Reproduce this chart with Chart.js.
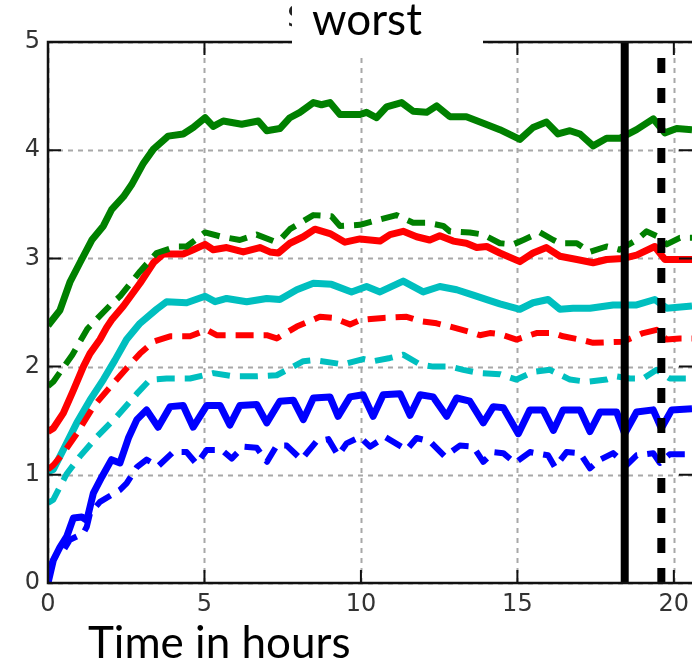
<!DOCTYPE html>
<html>
<head>
<meta charset="utf-8">
<script src="https://cdn.jsdelivr.net/npm/chart.js@4/dist/chart.umd.min.js"></script>
<style>
  html, body { margin: 0; padding: 0; background: #fff; }
  #wrap { width: 692px; height: 668px; }
</style>
</head>
<body>
<div id="wrap"><canvas id="c" width="692" height="668"></canvas></div>
<script>
// [hour, value] pairs
const greenSolid = [[0,2.38],[0.38,2.52],[0.7,2.78],[1.02,2.96],[1.4,3.17],[1.77,3.30],[2.03,3.45],[2.41,3.57],[2.67,3.68],[3.05,3.88],[3.37,4.01],[3.84,4.13],[4.32,4.15],[4.64,4.21],[5.02,4.30],[5.28,4.22],[5.6,4.27],[6.19,4.24],[6.72,4.27],[6.99,4.18],[7.41,4.20],[7.73,4.30],[8.05,4.35],[8.48,4.44],[8.74,4.42],[9.01,4.44],[9.33,4.33],[9.97,4.33],[10.18,4.35],[10.5,4.30],[10.82,4.40],[11.3,4.44],[11.67,4.36],[12.1,4.35],[12.42,4.41],[12.84,4.31],[13.37,4.31],[13.91,4.25],[14.44,4.19],[15.08,4.10],[15.5,4.21],[15.93,4.26],[16.3,4.15],[16.68,4.18],[17.0,4.15],[17.42,4.04],[17.85,4.11],[18.27,4.11],[18.81,4.19],[19.34,4.29],[19.71,4.16],[20.09,4.20],[20.58,4.19]];
const greenDashed = [[0,1.82],[0.17,1.86],[0.78,2.11],[1.26,2.35],[2.03,2.58],[2.3,2.65],[2.94,2.88],[3.47,3.05],[4.11,3.11],[4.43,3.11],[5.02,3.24],[5.55,3.20],[6.13,3.17],[6.67,3.22],[7.2,3.16],[7.41,3.17],[7.73,3.27],[8.48,3.40],[9.06,3.39],[9.33,3.30],[9.97,3.31],[10.6,3.36],[11.14,3.40],[11.67,3.33],[12.1,3.33],[12.63,3.30],[12.84,3.25],[13.48,3.24],[13.91,3.22],[14.44,3.14],[14.87,3.13],[15.19,3.17],[15.72,3.24],[16.15,3.17],[16.36,3.14],[16.9,3.14],[17.32,3.06],[17.85,3.11],[18.27,3.08],[18.81,3.17],[19.13,3.25],[19.5,3.20],[19.77,3.13],[20.19,3.19],[20.58,3.19]];
const redSolid = [[0,1.40],[0.17,1.43],[0.49,1.57],[0.81,1.78],[1.13,2.0],[1.34,2.12],[1.66,2.25],[1.87,2.36],[2.03,2.43],[2.41,2.56],[2.94,2.77],[3.37,2.96],[3.68,3.04],[4.32,3.04],[4.64,3.08],[5.02,3.13],[5.28,3.08],[5.71,3.10],[6.24,3.06],[6.77,3.10],[7.09,3.06],[7.36,3.05],[7.73,3.14],[8.16,3.20],[8.53,3.27],[9.01,3.23],[9.49,3.15],[9.97,3.18],[10.29,3.17],[10.61,3.16],[10.93,3.22],[11.35,3.25],[11.78,3.20],[12.2,3.17],[12.52,3.21],[12.95,3.16],[13.37,3.14],[13.7,3.10],[14.02,3.11],[14.44,3.05],[15.08,2.97],[15.5,3.05],[15.93,3.10],[16.36,3.02],[16.9,2.99],[17.42,2.96],[17.85,2.99],[18.38,3.00],[18.81,3.03],[19.39,3.11],[19.71,2.99],[20.09,2.99],[20.58,2.99]];
const redDashed = [[0,1.05],[0.17,1.09],[0.49,1.20],[0.92,1.38],[1.45,1.63],[1.98,1.81],[2.62,2.02],[2.94,2.12],[3.37,2.23],[3.9,2.28],[4.54,2.28],[5.07,2.34],[5.39,2.29],[6.13,2.29],[6.99,2.29],[7.31,2.26],[7.95,2.37],[8.69,2.46],[9.11,2.45],[9.65,2.39],[9.97,2.43],[10.71,2.45],[11.46,2.46],[11.89,2.42],[12.42,2.40],[12.84,2.37],[13.48,2.32],[13.8,2.29],[14.12,2.31],[14.44,2.30],[14.97,2.25],[15.61,2.31],[16.15,2.31],[16.46,2.28],[17.0,2.25],[17.42,2.22],[18.38,2.23],[19.02,2.31],[19.45,2.34],[19.77,2.25],[20.19,2.26],[20.58,2.26]];
const cyanSolid = [[0,1.03],[0.17,1.05],[0.54,1.26],[0.92,1.48],[1.34,1.69],[1.77,1.88],[2.14,2.06],[2.51,2.25],[2.94,2.40],[3.47,2.53],[3.79,2.60],[4.43,2.59],[5.02,2.65],[5.34,2.60],[5.71,2.63],[6.35,2.60],[6.99,2.63],[7.41,2.62],[7.95,2.71],[8.48,2.77],[9.06,2.76],[9.7,2.69],[10.18,2.74],[10.61,2.69],[11.35,2.79],[11.99,2.69],[12.52,2.74],[13.06,2.71],[13.59,2.66],[14.12,2.61],[14.44,2.58],[15.08,2.53],[15.5,2.59],[15.98,2.62],[16.36,2.53],[16.78,2.54],[17.32,2.54],[18.06,2.57],[18.81,2.57],[19.39,2.62],[19.77,2.54],[20.58,2.56]];
const cyanDashed = [[0,0.74],[0.17,0.77],[0.6,1.01],[1.02,1.17],[1.56,1.35],[2.2,1.54],[2.84,1.75],[3.26,1.88],[3.79,1.89],[4.54,1.89],[5.28,1.94],[5.92,1.91],[6.67,1.91],[7.31,1.92],[8.16,2.05],[8.48,2.06],[9.22,2.03],[9.43,2.02],[10.07,2.07],[10.39,2.05],[10.93,2.08],[11.35,2.11],[11.89,2.02],[12.31,2.0],[12.84,2.0],[13.27,1.97],[13.8,1.94],[14.44,1.93],[14.97,1.88],[15.5,1.95],[16.04,1.97],[16.68,1.88],[17.21,1.86],[17.85,1.88],[18.17,1.91],[18.6,1.89],[19.02,1.89],[19.45,1.97],[19.87,1.89],[20.58,1.89]];
const blueSolid = [[0,0],[0.17,0.21],[0.38,0.33],[0.6,0.43],[0.81,0.60],[1.08,0.61],[1.24,0.58],[1.45,0.83],[1.72,0.98],[2.03,1.14],[2.3,1.11],[2.57,1.34],[2.84,1.51],[3.15,1.60],[3.52,1.44],[3.9,1.63],[4.32,1.64],[4.64,1.44],[5.07,1.64],[5.5,1.64],[5.81,1.46],[6.13,1.64],[6.67,1.65],[6.99,1.48],[7.41,1.68],[7.84,1.69],[8.16,1.51],[8.48,1.71],[9.01,1.72],[9.27,1.54],[9.65,1.72],[10.07,1.74],[10.39,1.54],[10.71,1.74],[11.25,1.75],[11.57,1.55],[11.89,1.74],[12.31,1.72],[12.74,1.54],[13.06,1.71],[13.48,1.68],[13.91,1.48],[14.23,1.63],[14.55,1.62],[15.03,1.38],[15.4,1.60],[15.82,1.60],[16.15,1.41],[16.46,1.60],[17.0,1.60],[17.32,1.40],[17.64,1.58],[18.17,1.58],[18.43,1.38],[18.81,1.58],[19.34,1.60],[19.6,1.43],[19.93,1.60],[20.58,1.61]];
const blueDashed = [[0,0.12],[0.28,0.27],[0.49,0.30],[0.7,0.40],[1.13,0.46],[1.24,0.52],[1.34,0.64],[1.66,0.75],[2.3,0.86],[2.51,0.92],[2.84,1.07],[3.15,1.14],[3.52,1.08],[4.0,1.21],[4.43,1.21],[4.75,1.10],[5.07,1.23],[5.55,1.23],[5.87,1.15],[6.24,1.26],[6.67,1.25],[7.0,1.12],[7.31,1.27],[7.63,1.27],[8.1,1.14],[8.58,1.31],[8.96,1.33],[9.27,1.18],[9.54,1.29],[9.97,1.35],[10.29,1.26],[10.77,1.35],[11.46,1.23],[11.78,1.34],[12.2,1.31],[12.68,1.17],[13.16,1.27],[13.59,1.26],[13.91,1.12],[14.23,1.21],[14.55,1.20],[14.92,1.11],[15.4,1.21],[15.98,1.18],[16.2,1.07],[16.57,1.21],[17.0,1.20],[17.32,1.06],[17.64,1.14],[18.06,1.20],[18.49,1.09],[18.81,1.18],[19.34,1.20],[19.55,1.11],[19.87,1.19],[20.58,1.19]];

// the two vertical markers (hours) and the span they cover
const markerHours = [18.43, 19.6];
const markerSpan = [0, 5];

const xTicks = [0, 5, 10, 15, 20];
const yTicks = [0, 1, 2, 3, 4, 5];
const xMax = 20.58;

const pts = a => a.map(p => ({ x: p[0], y: p[1] }));
const vline = h => markerSpan.map(v => ({ x: h, y: v }));

function line(data, color, dashed) {
    return {
        data: pts(data),
        borderColor: color,
        borderWidth: dashed ? 6 : 7,
        borderDash: dashed ? [18, 10] : [],
        borderJoinStyle: 'round',
        borderCapStyle: 'butt',
        pointRadius: 0,
        tension: 0,
        clip: 0,
    };
}

// grid, spines, inward ticks and the texts
const frame = {
    id: 'frame',
    beforeDatasetsDraw(chart) {
        const { ctx, chartArea: a, scales: { x, y } } = chart;
        ctx.save();
        ctx.strokeStyle = '#a8a8a8';
        ctx.lineWidth = 2;
        ctx.setLineDash([5, 5]);
        xTicks.forEach(t => {
            const px = Math.round(x.getPixelForValue(t)) + 0.5;
            ctx.beginPath(); ctx.moveTo(px, a.bottom); ctx.lineTo(px, a.top); ctx.stroke();
        });
        yTicks.forEach(t => {
            const py = Math.round(y.getPixelForValue(t)) + 0.5;
            ctx.beginPath(); ctx.moveTo(a.left, py); ctx.lineTo(a.right, py); ctx.stroke();
        });
        ctx.restore();
    },
    afterDatasetsDraw(chart) {
        const { ctx, chartArea: a, scales: { x, y } } = chart;
        ctx.save();
        ctx.strokeStyle = '#111';
        ctx.lineWidth = 2.5;
        ctx.strokeRect(a.left, a.top, a.right - a.left + 4, a.bottom - a.top);
        ctx.lineWidth = 2;
        const tl = 13;
        xTicks.forEach(t => {
            const px = x.getPixelForValue(t);
            ctx.beginPath();
            ctx.moveTo(px, a.bottom); ctx.lineTo(px, a.bottom - tl);
            ctx.moveTo(px, a.top); ctx.lineTo(px, a.top + tl);
            ctx.stroke();
        });
        yTicks.forEach(t => {
            const py = y.getPixelForValue(t);
            ctx.beginPath();
            ctx.moveTo(a.left, py); ctx.lineTo(a.left + tl, py);
            ctx.moveTo(a.right, py); ctx.lineTo(a.right - tl, py);
            ctx.stroke();
        });

        // hidden title, mostly covered by a white box
        ctx.fillStyle = '#222';
        ctx.font = '30px "DejaVu Sans"';
        ctx.textAlign = 'left';
        ctx.textBaseline = 'alphabetic';
        ctx.fillText('S', 287, 27);
        ctx.fillStyle = '#fff';
        ctx.fillRect(292, 0, 191, 57);

        ctx.fillStyle = '#000';
        ctx.font = '44px Lato';
        ctx.fillText('worst', 312, 35);
        ctx.font = '44px Lato';
        ctx.fillText('Time in hours', 88, 658);
        ctx.restore();
    }
};

const tickFont = { family: 'DejaVu Sans', size: 24 };

new Chart(document.getElementById('c'), {
    type: 'line',
    data: {
        datasets: [
            { data: vline(markerHours[0]), borderColor: '#000', borderWidth: 8, pointRadius: 0, borderCapStyle: 'butt', clip: 0 },
            { data: vline(markerHours[1]), borderColor: '#000', borderWidth: 8, borderDash: [15, 15], pointRadius: 0, borderCapStyle: 'butt', clip: 0 },
            line(greenSolid, '#008000', false),
            line(greenDashed, '#008000', true),
            line(redSolid, '#ff0000', false),
            line(redDashed, '#ff0000', true),
            line(cyanSolid, '#00bfbf', false),
            line(cyanDashed, '#00bfbf', true),
            line(blueSolid, '#0000ff', false),
            line(blueDashed, '#0000ff', true),
        ]
    },
    options: {
        responsive: false,
        animation: false,
        events: [],
        layout: { padding: { top: 42, right: 0, left: 0, bottom: 0 } },
        plugins: { legend: { display: false }, tooltip: { enabled: false }, title: { display: false } },
        scales: {
            x: {
                type: 'linear', min: 0, max: xMax,
                grid: { display: false, drawTicks: false },
                border: { display: false },
                ticks: { font: tickFont, color: '#333', padding: 7, autoSkip: false, maxRotation: 0 },
                afterBuildTicks: s => { s.ticks = xTicks.map(v => ({ value: v })); },
                afterFit: s => { s.height = 85; s.paddingLeft = 0; s.paddingRight = 0; },
            },
            y: {
                type: 'linear', min: 0, max: 5,
                grid: { display: false, drawTicks: false },
                border: { display: false },
                ticks: { font: tickFont, color: '#333', padding: 8 },
                afterBuildTicks: s => { s.ticks = yTicks.map(v => ({ value: v })); },
                afterFit: s => { s.width = 48; s.paddingTop = 0; s.paddingBottom = 0; },
            }
        }
    },
    plugins: [frame]
});
</script>
</body>
</html>
